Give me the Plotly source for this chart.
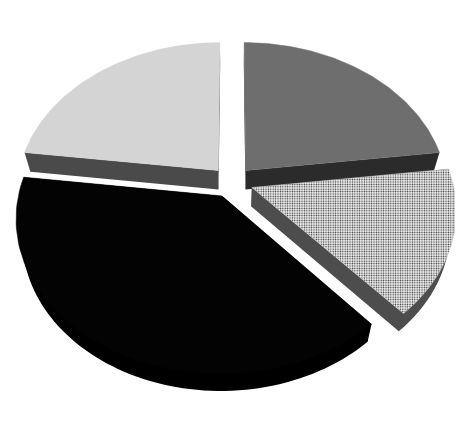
import numpy as np
import plotly.graph_objects as go

# slices clockwise from 12 o'clock
slice_names = ["A", "B", "C", "D"]
slice_values = [23, 15.5, 38.5, 23]
top_colors = ["#6e6e6e", "#c8c8c8", "#030303", "#d4d4d4"]
side_colors = ["#2b2b2b", "#4d4d4d", "#000000", "#4a4a4a"]

W, H = 463, 444
BODY = 8  # page margin the browser puts round the plot
CX, CY = 232, 182
R = 201
TILT = 0.74
PERSP = 0.14
DEPTH = 19
PULL = 0.105
SHRINK = 0.972  # the underside sits further away from the camera


def project(x, y, under=False):
    s = 1 / (1 - PERSP * y)
    px, py = CX + R * x * s, CY + R * TILT * y * s
    if under:
        return CX + (px - CX) * SHRINK, CY + (py - CY) * SHRINK + DEPTH * s
    return px, py


def add_side(fig, px, py, color):
    fig.add_trace(go.Scatter(x=list(px) + [px[0]], y=list(py) + [py[0]], mode="none",
                             fill="toself", fillcolor=color,
                             hoverinfo="skip", showlegend=False))


fig = go.Figure()
fracs = np.array(slice_values) / sum(slice_values)
edges = np.concatenate([[0], np.cumsum(fracs)]) * 2 * np.pi

# back slices first so the front ones overlap them
for i in [0, 3, 1, 2]:
    a0, a1 = edges[i], edges[i + 1]
    mid = (a0 + a1) / 2
    ox, oy = PULL * np.sin(mid), -PULL * np.cos(mid)
    t = np.linspace(a0, a1, 80)
    ax, ay = ox + np.sin(t), oy - np.cos(t)

    tx, ty = project(ax, ay)
    bx, by = project(ax, ay, True)
    ctx, cty = project(ox, oy)
    cbx, cby = project(ox, oy, True)

    # only the part of the rim that faces the viewer shows
    # its inner edge runs under the top face so no light seam is left
    front = np.cos(t) < 0.1
    if front.sum() > 1:
        ix, iy = project(ox + 0.97 * np.sin(t), oy - 0.97 * np.cos(t))
        add_side(fig, np.concatenate([ix[front], bx[front][::-1]]),
                 np.concatenate([iy[front], by[front][::-1]]), side_colors[i])
    add_side(fig, [ctx, tx[0], bx[0], cbx], [cty, ty[0], by[0], cby], side_colors[i])
    add_side(fig, [ctx, tx[-1], bx[-1], cbx], [cty, ty[-1], by[-1], cby], side_colors[i])

    top_x = [ctx] + list(tx) + [ctx]
    top_y = [cty] + list(ty) + [cty]
    top = dict(x=top_x, y=top_y, mode="lines", fill="toself", name=slice_names[i],
               showlegend=False, line=dict(color=top_colors[i], width=0.5))
    if slice_names[i] == "B":
        top["fillpattern"] = dict(shape=".", size=2.4, solidity=0.3,
                                  fgcolor="#333333", bgcolor="#f4f4f4", fillmode="replace")
    else:
        top["fillcolor"] = top_colors[i]
    fig.add_trace(go.Scatter(**top))

fig.update_layout(width=W - 2 * BODY, height=H - 2 * BODY, margin=dict(l=0, r=0, t=0, b=0),
                  paper_bgcolor="white", plot_bgcolor="white")
fig.update_xaxes(visible=False, range=[BODY, W - BODY])
fig.update_yaxes(visible=False, range=[H - BODY, BODY])
fig.write_html("out.html", config=dict(displayModeBar=False))
